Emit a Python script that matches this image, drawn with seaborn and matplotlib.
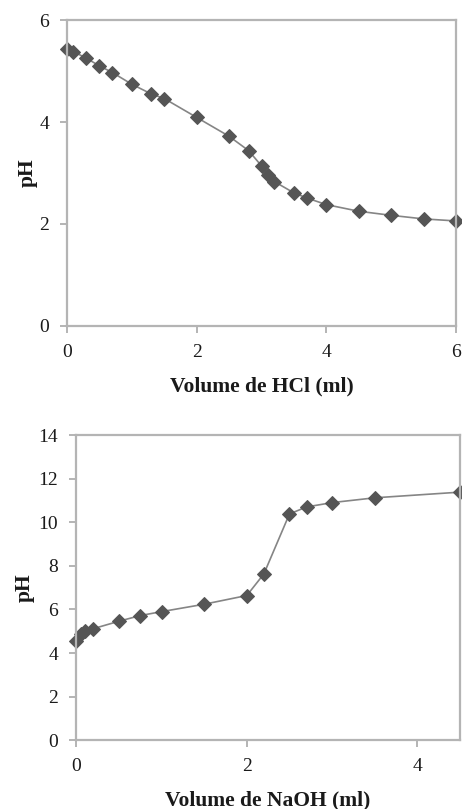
import matplotlib
matplotlib.use("Agg")
import matplotlib.pyplot as plt
import seaborn as sns
import pandas as pd

# Titration of the sample with HCl
hcl_volume = [0, 0.1, 0.3, 0.5, 0.7, 1.0, 1.3, 1.5, 2.0, 2.5, 2.8, 3.0, 3.1, 3.2,
              3.5, 3.7, 4.0, 4.5, 5.0, 5.5, 6.0]
hcl_ph = [5.43, 5.38, 5.25, 5.10, 4.97, 4.74, 4.55, 4.46, 4.09, 3.72, 3.44, 3.14,
          2.96, 2.83, 2.61, 2.51, 2.38, 2.25, 2.17, 2.10, 2.06]

# Titration of the sample with NaOH
naoh_volume = [0, 0.05, 0.1, 0.2, 0.5, 0.75, 1.0, 1.5, 2.0, 2.2, 2.5, 2.7, 3.0, 3.5, 4.5]
naoh_ph = [4.56, 4.88, 5.02, 5.12, 5.46, 5.72, 5.90, 6.24, 6.64, 7.63, 10.38, 10.70,
           10.90, 11.12, 11.38]

hcl_ticks_x = [0, 2, 4, 6]
hcl_ticks_y = [0, 2, 4, 6]
naoh_ticks_x = [0, 2, 4]
naoh_ticks_y = [0, 2, 4, 6, 8, 10, 12, 14]

sns.set_theme(style="white")
plt.rcParams["font.family"] = ["Liberation Serif", "DejaVu Serif"]

SPINE = "#b4b4b4"
LINE = "#858585"
MARK = "#555555"

fig = plt.figure(figsize=(4.62, 8.09), dpi=100)
ax1 = fig.add_axes([67 / 462, 1 - 326 / 809, 389 / 462, 306 / 809])
ax2 = fig.add_axes([76.3 / 462, 1 - 740.3 / 809, 383.7 / 462, 305.3 / 809])


def draw(ax, x, y, xlim, ylim, xt, yt, xlabel, ypad):
    df = pd.DataFrame({"v": x, "ph": y})
    sns.lineplot(data=df, x="v", y="ph", ax=ax, color=LINE, linewidth=1.2,
                 marker="D", markersize=7, markerfacecolor=MARK,
                 markeredgecolor=MARK, sort=False, estimator=None)
    for ln in ax.lines:
        ln.set_clip_on(False)
    ax.set_xlim(*xlim)
    ax.set_ylim(*ylim)
    ax.set_xticks(xt)
    ax.set_yticks(yt)
    ax.set_xticklabels([str(t) for t in xt])
    ax.set_yticklabels([str(t) for t in yt])
    for s in ax.spines.values():
        s.set_color(SPINE)
        s.set_linewidth(1.6)
    ax.tick_params(axis="both", which="major", direction="out", length=5,
                   width=1.4, color=SPINE, labelsize=14, labelcolor="#1a1a1a",
                   pad=8, left=True, bottom=True)
    ax.set_xlabel(xlabel, fontsize=15.5, fontweight="bold", color="#1a1a1a", labelpad=11)
    ax.set_ylabel("pH", fontsize=15.5, fontweight="bold", color="#1a1a1a", labelpad=ypad)


draw(ax1, hcl_volume, hcl_ph, (0, 6), (0, 6), hcl_ticks_x, hcl_ticks_y,
     "Volume de HCl (ml)", 1)
draw(ax2, naoh_volume, naoh_ph, (0, 4.5), (0, 14), naoh_ticks_x, naoh_ticks_y,
     "Volume de NaOH (ml)", 3)

fig.savefig("out.png", dpi=100)
